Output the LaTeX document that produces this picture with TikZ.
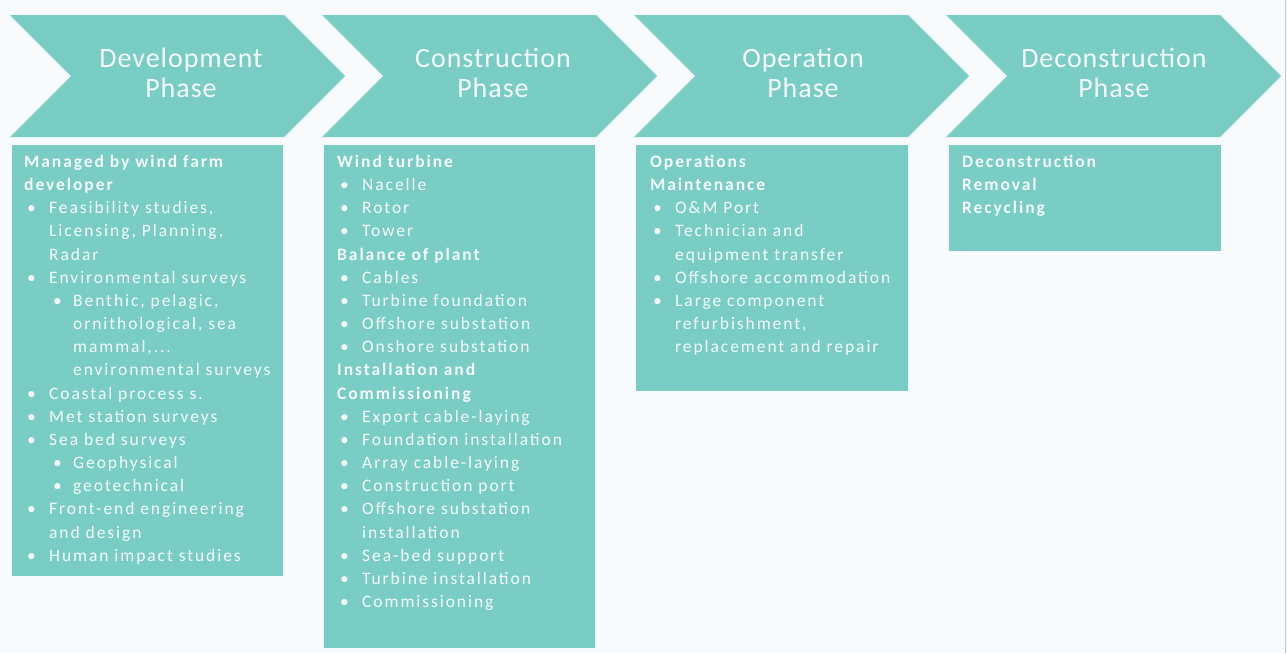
\documentclass[tikz,border=0pt]{standalone}
\usepackage{fontspec}
\usepackage{xcolor}
\usepackage{tikz}
\usetikzlibrary{positioning}
\setmainfont{Carlito}
\newfontfamily\titlefont{Carlito}[LetterSpace=3.5]
\newfontfamily\listfont{Carlito}[LetterSpace=11]
\definecolor{tealfill}{HTML}{79CDC5}
\definecolor{pagebg}{HTML}{F8FBFE}
\definecolor{paletext}{HTML}{F5FBFB}
\newcommand{\bul}{\hspace*{3pt}\makebox[22pt][l]{\textbullet}}
\newcommand{\cnt}{\hspace*{25pt}}
\newcommand{\sbul}{\hspace*{29pt}\makebox[20pt][l]{\textbullet}}
\newcommand{\scnt}{\hspace*{49pt}}
\tikzset{
  phase/.style={fill=tealfill},
  phasetitle/.style={text=paletext, align=center, inner sep=0pt,
    font=\titlefont\fontsize{28}{29.5}\selectfont},
  listbox/.style={fill=tealfill},
  listtext/.style={text=paletext, align=left, inner sep=0pt, anchor=north west,
    font=\listfont\fontsize{17.5}{23.16}\selectfont}
}

\begin{document}
\begin{tikzpicture}[x=1pt, y=-1pt]
\fill[pagebg] (0,0) rectangle (1287,653);
\useasboundingbox (0,0) rectangle (1287,653);
\draw[gray!45] (1285,0) -- (1285,653);

% chevrons
\foreach \L in {10,322,634,946}
  \fill[phase] (\L,15) -- (\L+274,15) -- (\L+335,76) -- (\L+274,137)
    -- (\L,137) -- (\L+61,76) -- cycle;

\node[phasetitle] (devphase) at (181,73) {Development\\Phase};
\node[phasetitle] (conphase) at (493,73) {Construction\\Phase};
\node[phasetitle] (opphase) at (803,73) {Operation\\Phase};
\node[phasetitle] (decphase) at (1114,73) {Deconstruction\\Phase};

% boxes
\fill[listbox] (12,145) rectangle (283,576);
\fill[listbox] (324,145) rectangle (595,648);
\fill[listbox] (636,145) rectangle (908,391);
\fill[listbox] (949,145) rectangle (1221,251);

\node[listtext] (devlist) at (24,155) {%
\textbf{Managed by wind farm}\\
\textbf{developer}\\
\bul Feasibility studies,\\
\cnt Licensing, Planning,\\
\cnt Radar\\
\bul Environmental  surveys\\
\sbul Benthic, pelagic,\\
\scnt ornithological, sea\\
\scnt mammal,...\\
\scnt environmental  surveys\\
\bul Coastal process s.\\
\bul Met station surveys\\
\bul Sea bed surveys\\
\sbul Geophysical\\
\sbul geotechnical\\
\bul Front-end engineering\\
\cnt and design\\
\bul Human impact studies};

\node[listtext] (conlist) at (337,155) {%
\textbf{Wind turbine}\\
\bul Nacelle\\
\bul Rotor\\
\bul Tower\\
\textbf{Balance of plant}\\
\bul Cables\\
\bul Turbine foundation\\
\bul Offshore substation\\
\bul Onshore substation\\
\textbf{Installation and}\\
\textbf{Commissioning}\\
\bul Export cable-laying\\
\bul Foundation  installation\\
\bul Array cable-laying\\
\bul Construction port\\
\bul Offshore substation\\
\cnt installation\\
\bul Sea-bed support\\
\bul Turbine installation\\
\bul Commissioning};

\node[listtext] (oplist) at (650,155) {%
\textbf{Operations}\\
\textbf{Maintenance}\\
\bul O\&M Port\\
\bul Technician and\\
\cnt equipment transfer\\
\bul Offshore accommodation\\
\bul Large component\\
\cnt refurbishment,\\
\cnt replacement and repair};

\node[listtext] (declist) at (962,155) {%
\textbf{Deconstruction}\\
\textbf{Removal}\\
\textbf{Recycling}};
\end{tikzpicture}
\end{document}
